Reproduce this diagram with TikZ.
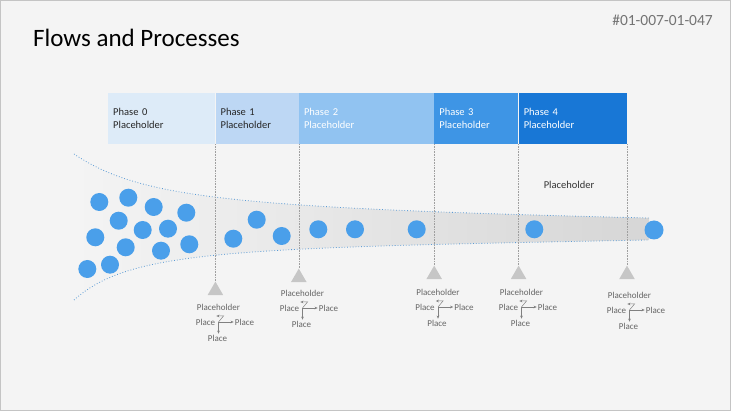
\documentclass[tikz,border=0pt]{standalone}
\usepackage{fontspec}
\setmainfont{Carlito}
\usetikzlibrary{shapes.geometric,positioning,arrows.meta}

\definecolor{pagebg}{HTML}{F4F4F4}
\definecolor{frame}{HTML}{C4C4C4}
\definecolor{dotblue}{HTML}{4A9FEA}
\definecolor{trail}{HTML}{5B9BD5}
\definecolor{band}{HTML}{D6D6D6}
\definecolor{ph0}{HTML}{DDEBF8}
\definecolor{ph1}{HTML}{BDD7F4}
\definecolor{ph2}{HTML}{91C3F1}
\definecolor{ph3}{HTML}{3E95E5}
\definecolor{ph4}{HTML}{1877D6}

\tikzset{
  phase/.style={fill=#1, minimum height=51pt, inner xsep=5pt, inner ysep=0pt,
    align=left, font=\fontsize{10.5}{13}\selectfont},
  dot/.style={circle, fill=dotblue, minimum size=18pt, inner sep=0pt},
  marker/.style={regular polygon, regular polygon sides=3, fill=gray!45,
    minimum size=18pt, inner sep=0pt, anchor=corner 1},
  guide/.style={densely dotted, gray!75, line width=0.6pt},
  rim/.style={dotted, trail, line width=0.8pt},
  tag/.style={font=\fontsize{9}{10}\selectfont, text=black!60, inner sep=1pt},
  flow/.style={-{Stealth[length=3pt,width=2.6pt]}, black!50, line width=0.5pt}
}

\begin{document}
\begin{tikzpicture}[x=1pt,y=-1pt]
  \useasboundingbox (0,0) rectangle (731,411);
  \fill[pagebg] (0,0) rectangle (731,411);
  \draw[frame, line width=1pt] (0.5,0.5) rectangle (730.5,410.5);

  % title and code
  \node[anchor=base west, inner sep=0pt, font=\fontsize{25}{30}\selectfont]
    (title) at (33,47) {Flows and Processes};
  \node[anchor=base east, inner sep=0pt, text=black!55,
    font=\fontsize{15.5}{18}\selectfont] (code) at (713,26) {\#01-007-01-047};

  % funnel
  \shade[left color=pagebg, right color=band]
    (74,154) .. controls (140,198) and (230,208) .. (649,218)
    -- (649,240) .. controls (230,248) and (130,250) .. (74,300) -- cycle;
  \draw[rim] (74,154) .. controls (140,198) and (230,208) .. (649,218);
  \draw[rim] (74,300) .. controls (130,250) and (230,248) .. (649,240);

  % phases
  \node[phase=ph0, text=black!85, text width=97pt, anchor=west]
    (p0) at (108,118.5) {Phase 0\\Placeholder};
  \node[phase=ph1, text=black!85, text width=73pt, right=0pt of p0]
    (p1) {Phase 1\\Placeholder};
  \node[phase=ph2, text=white, text width=125pt, right=0pt of p1]
    (p2) {Phase 2\\Placeholder};
  \node[phase=ph3, text=white, text width=74pt, right=0pt of p2]
    (p3) {Phase 3\\Placeholder};
  \node[phase=ph4, text=white, text width=98pt, right=0pt of p3]
    (p4) {Phase 4\\Placeholder};

  \node[font=\fontsize{10.5}{13}\selectfont, text=black!80]
    (note) at (569,185) {Placeholder};

  % items
  \foreach \x/\y [count=\n] in {99.3/202, 128.3/197.7, 153.7/207, 186.3/212.7,
      118.7/220.7, 142.7/230, 168/228.7, 95.3/237.3, 125.7/247.3, 161/250.7,
      189.3/244.3, 87.3/269, 110/264.7, 233.3/238.7, 256.7/219.7, 281.7/236,
      318.3/229.3, 355/229.3, 416.7/229.3, 534.3/229.3}
    \node[dot] (c\n) at (\x,\y) {};
  \node[dot, minimum size=19pt] (c21) at (654,230) {};

  % milestones
  \foreach \p/\t/\d in {p0/t1/137, p1/t2/124, p2/t3/121, p3/t4/121, p4/t5/121} {
    \node[marker] (\t) at ([yshift=-\d pt]\p.south east) {};
    \draw[guide] (\p.south east) -- (\t.corner 1);
  }

  \foreach \i/\cx/\cy in {1/218.5/307, 2/302.5/293, 3/438/292, 4/521.5/292,
      5/629.5/295} {
    \node[tag] (h\i) at (\cx,\cy) {Placeholder};
    \node[tag] (l\i) at (\cx-13,\cy+15) {Place};
    \node[tag] (r\i) at (\cx+26,\cy+15) {Place};
    \node[tag] (b\i) at (\cx-1,\cy+31) {Place};
    \coordinate (k\i) at (\cx,\cy+15);
    \coordinate (u\i) at (\cx+5,\cy+9);
    \draw[flow] (k\i) -- (r\i.west);
    \draw[flow] (k\i) -- (u\i) -- (l\i.north east |- u\i);
    \draw[flow] (k\i) -- (k\i |- b\i.north);
  }
\end{tikzpicture}
\end{document}
